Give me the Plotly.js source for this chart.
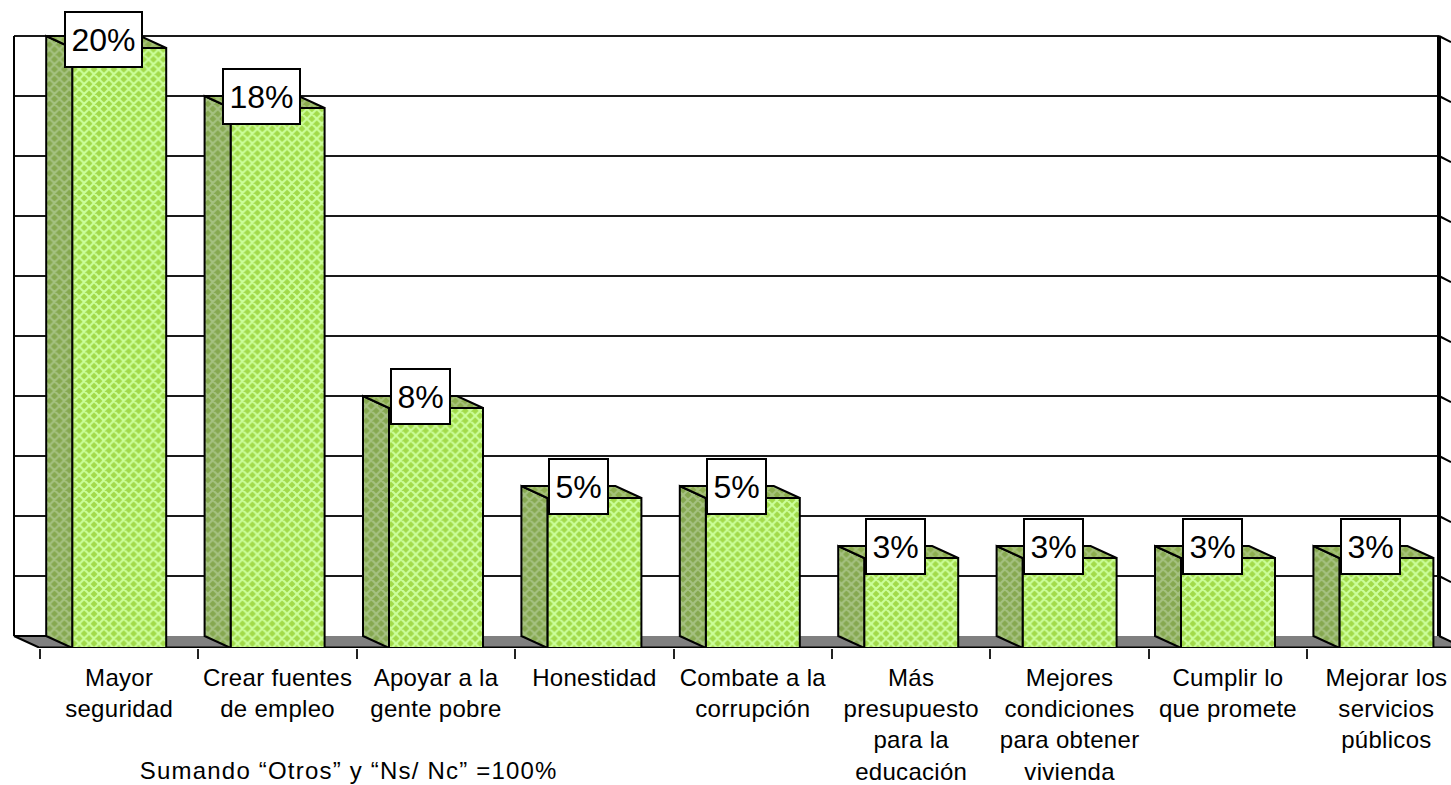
<!DOCTYPE html>
<html>
<head>
<meta charset="utf-8">
<script src="https://cdn.plot.ly/plotly-3.0.0.min.js"></script>
<style>
html,body{margin:0;padding:0;background:#fff;overflow:hidden}
.xtick text{letter-spacing:.3px}
g.annotation[data-index="9"] text{letter-spacing:1.2px}
</style>
</head>
<body>
<div id="chart" style="width:1451px;height:785px"></div>
<script>
const categories = [
  "Mayor<br>seguridad",
  "Crear fuentes<br>de empleo",
  "Apoyar a la<br>gente pobre",
  "Honestidad",
  "Combate a la<br>corrupción",
  "Más<br>presupuesto<br>para la<br>educación",
  "Mejores<br>condiciones<br>para obtener<br>vivienda",
  "Cumplir lo<br>que promete",
  "Mejorar los<br>servicios<br>públicos"
];
const values = [20, 18, 8, 5, 5, 3, 3, 3, 3];
const gridValues = [0, 2, 4, 6, 8, 10, 12, 14, 16, 18, 20];
const footnote = "Sumando “Otros” y “Ns/ Nc” =100%";

const W = 1451, H = 785, floorY = 648;
const unitX = 158.4, unitY = 30;
const firstCenter = 119.2;
const depthX = 26 / unitX, depthY = 12 / unitY;
const barWidth = 94 / unitX;
const indices = categories.map((_, i) => i);
const xMin = -firstCenter / unitX, xMax = (W - firstCenter) / unitX;
const yMax = floorY / unitY;
const wallLeft = xMin + 14 / unitX, wallRight = xMin + 1439 / unitX;
const frontLeft = wallLeft + depthX, frontRight = wallRight + depthX;
const boundaries = [...indices.map(i => i - 0.5), 8.5];

const black = "#000";
const pat = (bg, fg) => ({shape: "x", bgcolor: bg, fgcolor: fg, size: 7, solidity: 0.5, fillmode: "replace"});

function line(x0, y0, x1, y1, w, color) {
  return {type: "line", xref: "x", yref: "y", layer: "below", x0, y0, x1, y1,
          line: {color: color || black, width: w}};
}
const shapes = [];
// floor
shapes.push({type: "path", xref: "x", yref: "y", layer: "below",
  path: `M ${wallLeft} ${depthY} L ${wallRight} ${depthY} L ${frontRight} 0 L ${frontLeft} 0 Z`,
  fillcolor: "#808080", line: {width: 0}});
// back wall grid
gridValues.slice(1).forEach(g => {
  shapes.push(line(wallLeft, g + depthY, wallRight, g + depthY, 2, "#1a1a1a"));
  shapes.push(line(wallRight, g + depthY, wallRight + 12 / unitX, g + depthY - 6 / unitY, 2));
});
shapes.push(line(wallLeft, depthY, wallLeft, 20 + depthY, 2));
shapes.push(line(wallRight, depthY, wallRight, 20 + depthY, 4));
shapes.push(line(wallLeft, depthY, frontLeft, 0, 2));
shapes.push(line(wallRight, depthY, frontRight, 0, 2));
shapes.push(line(wallLeft, depthY, indices[0] - barWidth / 2 - depthX, depthY, 2));
shapes.push(line(frontLeft, 0, frontRight, 0, 3));

const sideX = [], sideY = [], topX = [], topY = [];
indices.forEach(i => {
  const l = i - barWidth / 2, r = i + barWidth / 2, v = values[i];
  sideX.push(l, l - depthX, l - depthX, l, l, null);
  sideY.push(v, v + depthY, depthY, 0, v, null);
  topX.push(l, l - depthX, r - depthX, r, l, null);
  topY.push(v, v + depthY, v + depthY, v, v, null);
});

const traces = [
  {type: "bar", x: indices, y: values, width: barWidth, cliponaxis: false, hoverinfo: "skip",
   marker: {color: "#a2da4a", line: {color: black, width: 2}, pattern: pat("#a2da4a", "#ccff9c")}},
  {type: "scatter", mode: "lines", x: sideX, y: sideY, fill: "toself", cliponaxis: false, hoverinfo: "skip",
   fillcolor: "#86a850", fillpattern: pat("#86a850", "#a6c282"), line: {color: black, width: 2}},
  {type: "scatter", mode: "lines", x: topX, y: topY, fill: "toself", cliponaxis: false, hoverinfo: "skip",
   fillcolor: "#8cad4e", fillpattern: pat("#8cad4e", "#a6c27a"), line: {color: black, width: 2}}
];

const annotations = indices.map(i => {
  const v = values[i];
  return {
    xref: "x", yref: "y", x: i, y: Math.min(v + depthY, 20.27), xshift: -16,
    text: v + "%", showarrow: false, xanchor: "center", yanchor: "middle",
    width: v >= 10 ? 75 : 57, height: 53, bgcolor: "#fff", bordercolor: black, borderwidth: 2, borderpad: 0,
    font: {family: "Liberation Sans, Arial, sans-serif", size: 32, color: black}
  };
});
annotations.push({
  xref: "paper", yref: "paper", x: 157 / W, y: 1 - 770 / floorY, xanchor: "left", yanchor: "middle",
  text: footnote, showarrow: false,
  font: {family: "Liberation Sans, Arial, sans-serif", size: 24, color: black}
});

const layout = {
  width: W, height: H, autosize: false,
  margin: {l: 0, r: 0, t: 0, b: H - floorY, pad: 0},
  paper_bgcolor: "#fff", plot_bgcolor: "#fff",
  showlegend: false,
  xaxis: {type: "linear", range: [xMin, xMax], tickmode: "array", tickvals: indices, ticktext: categories,
          ticks: "", showgrid: false, zeroline: false, showline: false, automargin: false, tickangle: 0,
          ticklabelstandoff: 13,
          tickfont: {family: "Liberation Sans, Arial, sans-serif", size: 24, color: black},
          minor: {tickmode: "array", tickvals: boundaries, ticks: "outside", ticklen: 10, tickwidth: 2,
                  tickcolor: "#222", showgrid: false}},
  yaxis: {range: [0, yMax], visible: false, fixedrange: true},
  shapes, annotations
};
Plotly.newPlot("chart", traces, layout, {displayModeBar: false, staticPlot: true});
</script>
</body>
</html>
